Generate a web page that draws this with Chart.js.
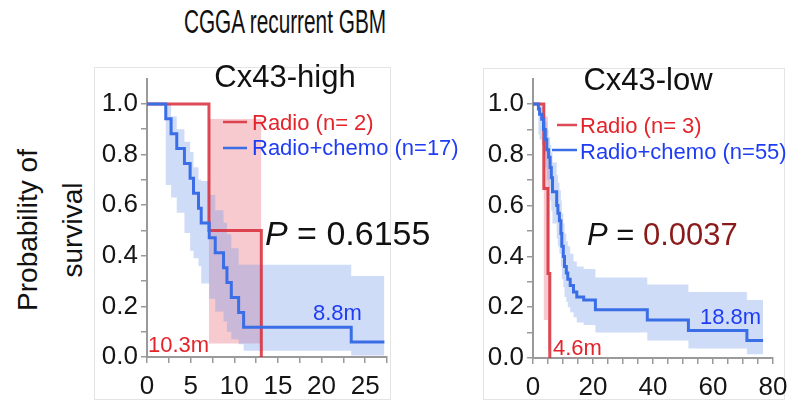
<!DOCTYPE html>
<html>
<head>
<meta charset="utf-8">
<script src="https://cdn.jsdelivr.net/npm/chart.js@4.4.1/dist/chart.umd.min.js"></script>
<style>
  body { margin: 0; background: #fff; width: 802px; height: 405px; position: relative; overflow: hidden; font-family: 'Liberation Sans', Arial, sans-serif; }
  .frame { position: absolute; border: 1px solid #e4e4e4; box-sizing: border-box; }
  .panel { position: absolute; top: 60px; }
  #title { position: absolute; left: 0; top: 2px; width: 570px; text-align: center; font-size: 33px; line-height: 40px; color: #111; transform: scaleX(0.63); white-space: nowrap; }
  #ylab { position: absolute; left: -50px; top: 185px; width: 200px; height: 90px; text-align: center; font-size: 28px; line-height: 45px; color: #111; transform: rotate(-90deg); white-space: nowrap; }
</style>
</head>
<body>
<div id="title">CGGA recurrent GBM</div>
<div id="ylab">Probability of<br>survival</div>
<div class="frame" style="left:94px;top:67px;width:297px;height:333px"></div>
<div class="frame" style="left:483px;top:68px;width:302px;height:332px"></div>
<canvas id="highChart" class="panel" width="386" height="345" style="left:94px"></canvas>
<canvas id="lowChart" class="panel" width="322" height="345" style="left:480px"></canvas>
<script>
// Cx43-high, months / survival probability
const highRadioTime = [0, 7.1, 13.1]
const highRadioSurv = [1, 0.5, 0]
const highRadioUpper = [1, 0.94, 0.94]
const highRadioLower = [1, 0.053, 0.053]

const highChemoTime = [0, 2.15, 2.76, 3.41, 4.29, 4.94, 5.33, 5.9, 6.21, 7.13, 7.82, 8.77, 9.16, 9.66, 10.5, 11.07, 23.4, 27.2]
const highChemoSurv = [1, 0.941, 0.882, 0.824, 0.765, 0.706, 0.647, 0.588, 0.529, 0.471, 0.412, 0.353, 0.294, 0.235, 0.176, 0.118, 0.059, 0.059]
const highChemoUpper = [1, 1, 0.95, 0.9, 0.85, 0.81, 0.75, 0.7, 0.695, 0.64, 0.58, 0.53, 0.485, 0.43, 0.364, 0.364, 0.32, 0.32]
const highChemoLower = [1, 0.68, 0.63, 0.57, 0.49, 0.42, 0.39, 0.36, 0.29, 0.23, 0.18, 0.14, 0.1, 0.07, 0.05, 0.025, 0.006, 0.006]

// Cx43-low
const lowRadioTime = [0, 3.6, 5.0, 5.6]
const lowRadioSurv = [1, 0.667, 0.333, 0]
const lowRadioUpper = [1, 0.95, 0.8, 0.8]
const lowRadioLower = [1, 0.15, 0.03, 0.03]

const lowChemoTime = [0, 1.8, 2.2, 2.9, 3.5, 4.1, 4.6, 5.2, 5.7, 6.1, 6.5, 7.9, 8.3, 8.8, 9.3, 9.6, 10.1, 10.5, 11.1, 11.6, 12.4, 13.5, 14.6, 16.9, 20.8, 38.1, 51.8, 71.3, 76.7]
const lowChemoSurv = [1, 0.98, 0.96, 0.94, 0.9, 0.86, 0.82, 0.79, 0.75, 0.71, 0.655, 0.6, 0.57, 0.54, 0.49, 0.44, 0.4, 0.36, 0.335, 0.31, 0.285, 0.26, 0.24, 0.228, 0.19, 0.15, 0.108, 0.069, 0.069]
const lowChemoUpper = [1, 1, 1, 0.99, 0.96, 0.93, 0.9, 0.87, 0.84, 0.81, 0.77, 0.72, 0.69, 0.66, 0.62, 0.57, 0.53, 0.49, 0.46, 0.44, 0.41, 0.38, 0.36, 0.35, 0.317, 0.289, 0.26, 0.228, 0.228]
const lowChemoLower = [1, 0.88, 0.86, 0.84, 0.8, 0.75, 0.7, 0.67, 0.62, 0.58, 0.53, 0.47, 0.44, 0.41, 0.36, 0.31, 0.28, 0.24, 0.22, 0.2, 0.18, 0.16, 0.14, 0.13, 0.1, 0.069, 0.037, 0.015, 0.015]

// tick labels
const highXLabels = [0, 5, 10, 15, 20, 25]
const lowXLabels = [0, 20, 40, 60, 80]
const yLabels = [0, 0.2, 0.4, 0.6, 0.8, 1.0]

Chart.defaults.font.family = "'Liberation Sans', Arial, sans-serif"

const RED = 'rgba(216, 44, 56, 0.85)'
const BLUE = '#3a6ee6'
const RED_TXT = '#e3242b'
const BLUE_TXT = '#1f3cf5'
const FONT = "'Liberation Sans', Arial, sans-serif"

function pts(t, v) {
  return t.map((x, i) => ({ x: x, y: v[i] }))
}

function curve(t, v, color) {
  return { data: pts(t, v), stepped: true, borderColor: color, borderWidth: 3, pointRadius: 0, fill: false }
}

function band(t, up, lo, color) {
  return [
    { data: pts(t, up), stepped: true, borderWidth: 0, pointRadius: 0, backgroundColor: color, fill: '+1' },
    { data: pts(t, lo), stepped: true, borderWidth: 0, pointRadius: 0, fill: false },
  ]
}

const hit = (list, v) => list.some((l) => Math.abs(l - v) < 1e-6)

function axes(xMax, xStep, xLabels, xHeight) {
  return {
    x: {
      type: 'linear', min: 0, max: xMax,
      border: { color: '#9a9a9a', width: 2 },
      grid: { drawOnChartArea: false, tickLength: 6, color: '#9a9a9a', lineWidth: 1.5 },
      ticks: {
        stepSize: xStep, autoSkip: false, maxRotation: 0, padding: 8, color: '#151515',
        font: { size: 26 },
        callback: (v) => (hit(xLabels, v) ? String(v) : ''),
      },
      afterFit: (s) => { s.height = xHeight },
    },
    y: {
      min: 0, max: 1.1,
      border: { color: '#9a9a9a', width: 2 },
      grid: { drawOnChartArea: false, tickLength: 6, color: '#9a9a9a', lineWidth: 1.5 },
      ticks: {
        stepSize: 0.1, autoSkip: false, padding: 3, color: '#151515',
        font: { size: 26 },
        callback: (v) => (v > 1.05 ? null : hit(yLabels, v) ? v.toFixed(1) : ''),
      },
      afterFit: (s) => { s.width = 53 },
    },
  }
}

// texts drawn on top of the plot: panel name, legend, P value, medians
function textPlugin(items) {
  return {
    id: 'panelText',
    afterDatasetsDraw(chart) {
      const ctx = chart.ctx
      ctx.save()
      ctx.textBaseline = 'alphabetic'
      items.forEach((it) => {
        if (it.line) {
          ctx.strokeStyle = it.color
          ctx.lineWidth = 2.5
          ctx.beginPath()
          ctx.moveTo(it.line[0], it.y)
          ctx.lineTo(it.line[1], it.y)
          ctx.stroke()
          return
        }
        const parts = it.parts || [{ text: it.text, color: it.color, font: it.font }]
        let x = it.x
        if (it.align === 'center') {
          let w = 0
          parts.forEach((p) => { ctx.font = p.font; w += ctx.measureText(p.text).width })
          x -= w / 2
        }
        parts.forEach((p) => {
          ctx.font = p.font
          ctx.fillStyle = p.color
          ctx.fillText(p.text, x, it.y)
          x += ctx.measureText(p.text).width
        })
      })
      ctx.restore()
    },
  }
}

function makeChart(id, datasets, scales, padding, items) {
  return new Chart(document.getElementById(id), {
    type: 'line',
    data: { datasets: datasets },
    options: {
      responsive: false,
      animation: false,
      devicePixelRatio: 1,
      layout: { padding: padding },
      scales: scales,
      plugins: { legend: { display: false }, tooltip: { enabled: false } },
    },
    plugins: [textPlugin(items)],
  })
}

makeChart('highChart',
  [
    curve(highChemoTime, highChemoSurv, BLUE),
    curve(highRadioTime, highRadioSurv, RED),
    ...band(highChemoTime, highChemoUpper, highChemoLower, 'rgba(110, 150, 230, 0.33)'),
    ...band(highRadioTime, highRadioUpper, highRadioLower, 'rgba(228, 95, 110, 0.33)'),
  ],
  axes(27.5, 2.5, highXLabels, 48),
  { left: 0, top: 9, right: 93, bottom: 0 },
  [
    { text: 'Cx43-high', x: 191, y: 27, color: '#111', font: '31px ' + FONT, align: 'center' },
    { line: [129, 153], y: 62, color: RED },
    { text: 'Radio (n= 2)', x: 158, y: 70, color: RED_TXT, font: '22px ' + FONT },
    { line: [129, 153], y: 88, color: BLUE },
    { text: 'Radio+chemo (n=17)', x: 158, y: 95, color: BLUE_TXT, font: '22px ' + FONT },
    { x: 171, y: 185, parts: [
      { text: 'P', color: '#111', font: 'italic 34px ' + FONT },
      { text: ' = 0.6155', color: '#111', font: '34px ' + FONT },
    ] },
    { text: '10.3m', x: 54, y: 292, color: RED_TXT, font: '22px ' + FONT },
    { text: '8.8m', x: 219, y: 260, color: BLUE_TXT, font: '22px ' + FONT },
  ]
)

makeChart('lowChart',
  [
    curve(lowChemoTime, lowChemoSurv, BLUE),
    curve(lowRadioTime, lowRadioSurv, RED),
    ...band(lowChemoTime, lowChemoUpper, lowChemoLower, 'rgba(110, 150, 230, 0.33)'),
    ...band(lowRadioTime, lowRadioUpper, lowRadioLower, 'rgba(228, 95, 110, 0.33)'),
  ],
  axes(80, 5, lowXLabels, 47),
  { left: 0, top: 10, right: 29, bottom: 0 },
  [
    { text: 'Cx43-low', x: 168, y: 30, color: '#111', font: '31px ' + FONT, align: 'center' },
    { line: [77, 97], y: 65, color: RED },
    { text: 'Radio (n= 3)', x: 100, y: 73, color: RED_TXT, font: '22px ' + FONT },
    { line: [72, 97], y: 90, color: BLUE },
    { text: 'Radio+chemo (n=55)', x: 100, y: 99, color: BLUE_TXT, font: '22px ' + FONT },
    { x: 107, y: 185, parts: [
      { text: 'P', color: '#111', font: 'italic 31px ' + FONT },
      { text: ' = ', color: '#111', font: '31px ' + FONT },
      { text: '0.0037', color: '#8b1a1a', font: '31px ' + FONT },
    ] },
    { text: '4.6m', x: 73, y: 295, color: RED_TXT, font: '22px ' + FONT },
    { text: '18.8m', x: 220, y: 264, color: BLUE_TXT, font: '22px ' + FONT },
  ]
)
</script>
</body>
</html>
